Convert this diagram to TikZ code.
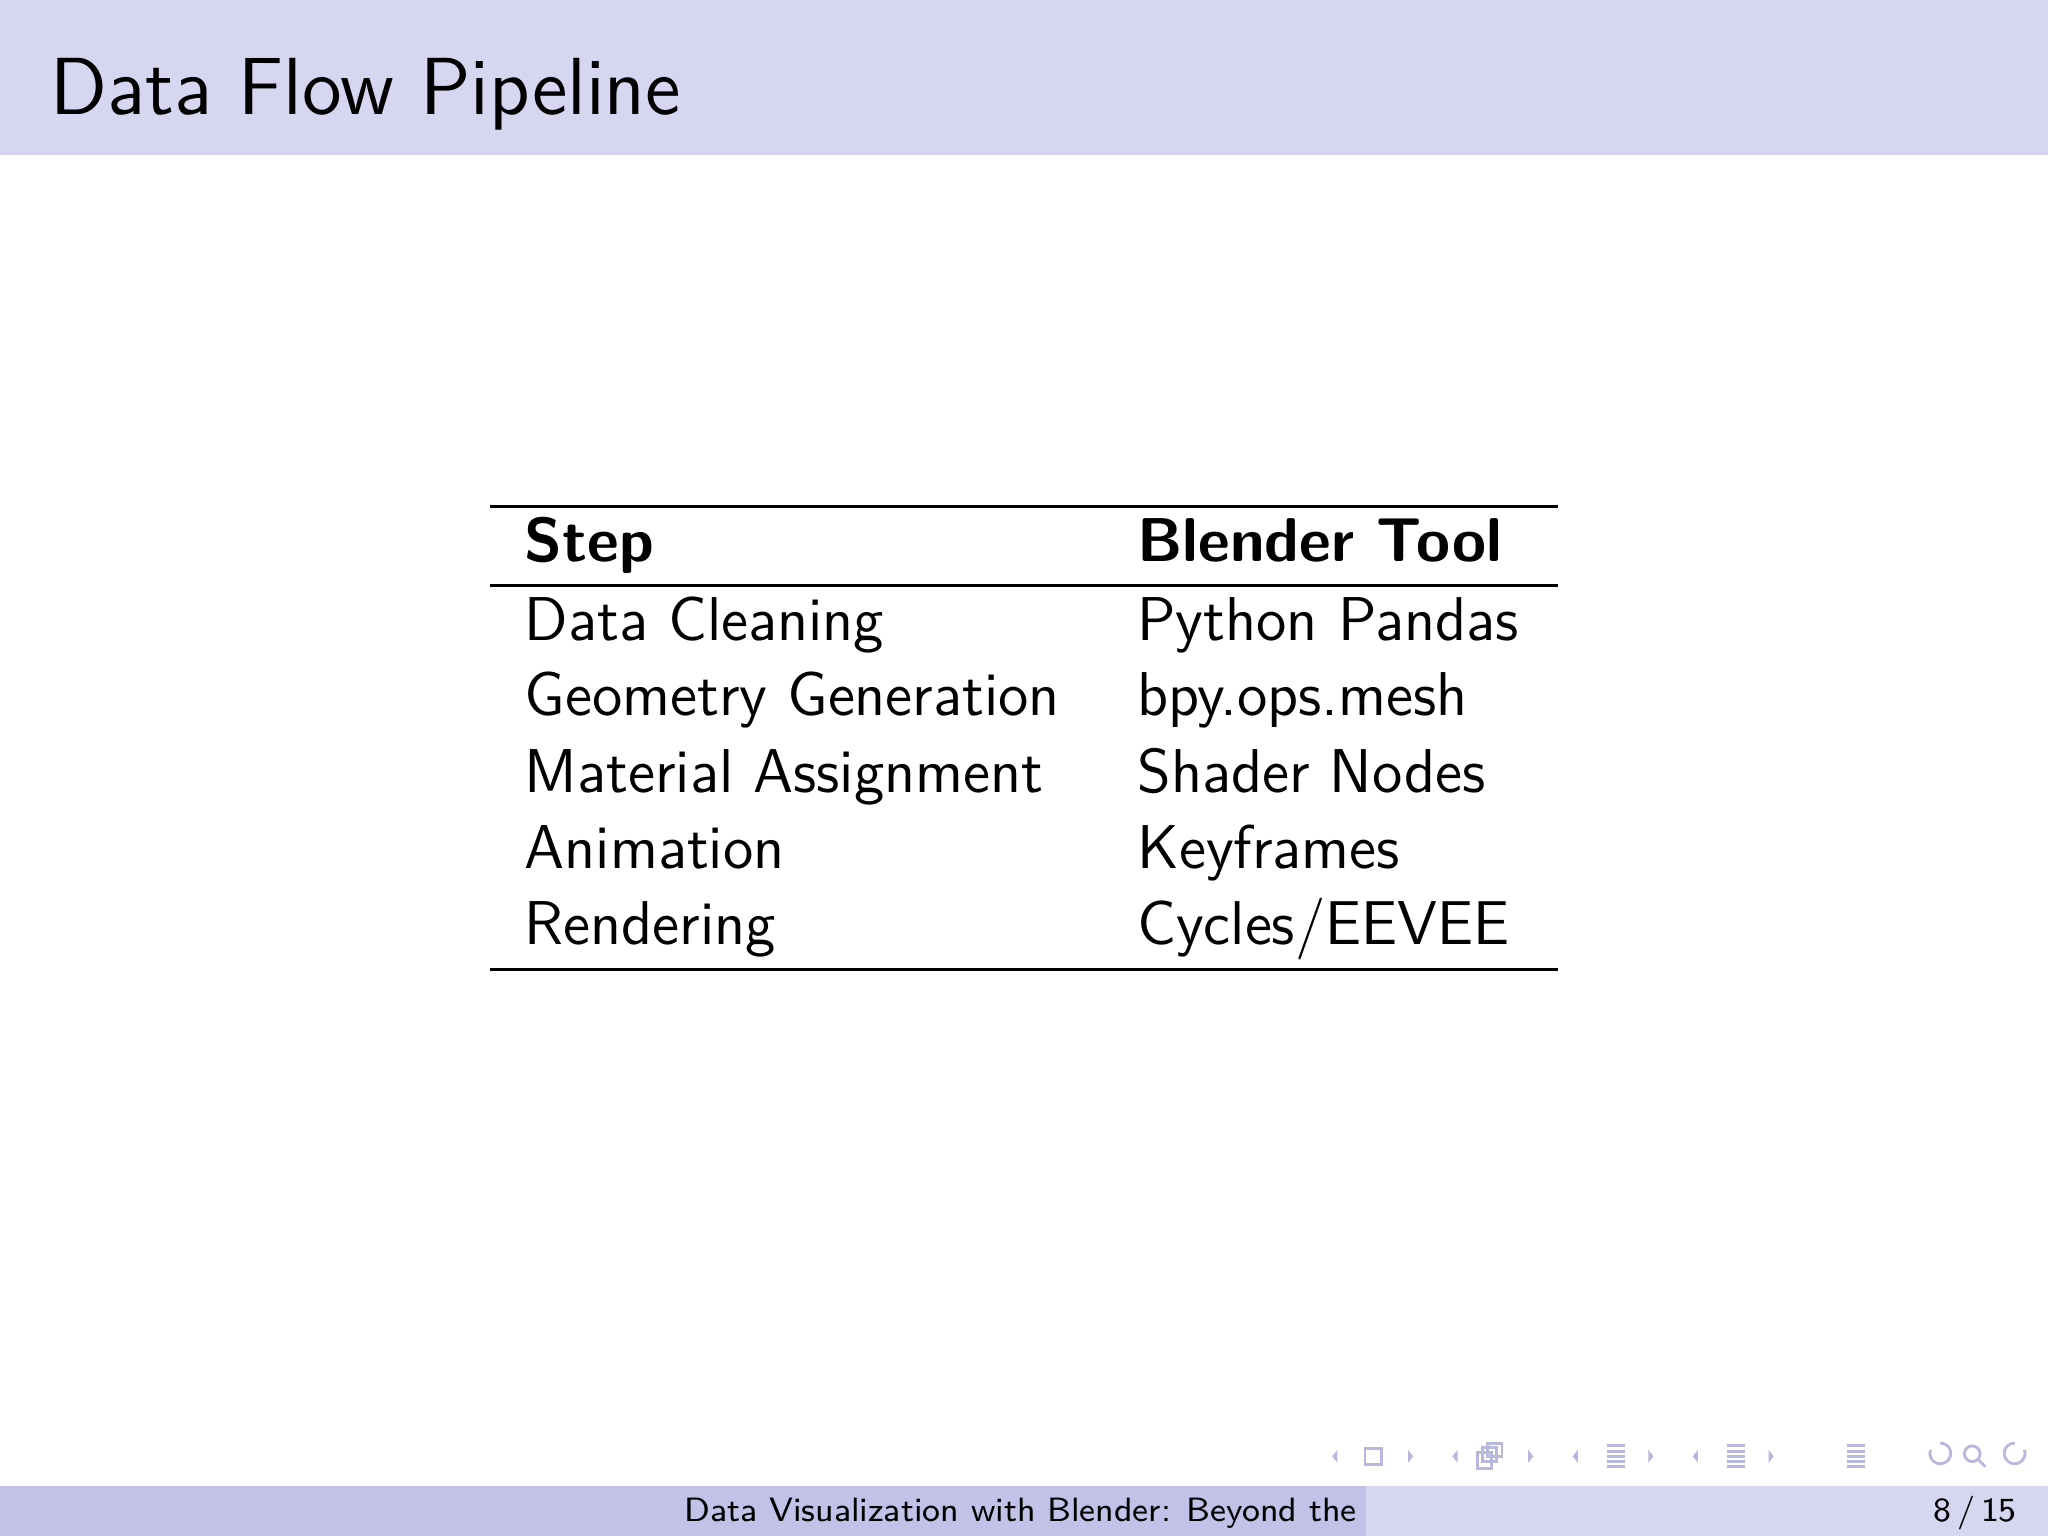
\documentclass[tikz,border=0pt]{standalone}
\renewcommand{\familydefault}{\sfdefault}
\usetikzlibrary{positioning}

\definecolor{headbg}{HTML}{D6D6F0}
\definecolor{footdark}{HTML}{C2C2E8}
\definecolor{footlight}{HTML}{D6D6F0}
\definecolor{navgray}{HTML}{B8B8DC}

\tikzset{
  cell/.style={anchor=base west, inner sep=0pt, font=\fontsize{11pt}{13pt}\selectfont},
  headcell/.style={cell, font=\fontsize{11pt}{13pt}\selectfont\bfseries},
  rule/.style={line width=0.55pt},
  nav/.style={draw=navgray, line width=0.5pt}
}

\begin{document}
\begin{tikzpicture}[x=0.081633mm, y=-0.081633mm]
                \useasboundingbox (0,0) rectangle (1568,1176);
                % header and footer bands
                \fill[headbg] (0,0) rectangle (1568,119);
                \node[anchor=base west, inner sep=0pt, font=\fontsize{14.4pt}{17pt}\selectfont] (title) at (38,88) {Data Flow Pipeline};
                \fill[footdark] (0,1138) rectangle (1046,1176);
                \fill[footlight] (1046,1138) rectangle (1568,1176);
                \node[anchor=base west, inner sep=0pt, font=\fontsize{6pt}{7pt}\selectfont] (foottitle) at (523,1165) {Data Visualization with Blender: Beyond the};
                \node[anchor=base east, inner sep=0pt, font=\fontsize{6pt}{7pt}\selectfont] (pages) at (1545,1165) {8\,/\,15};
                % table
                \draw[rule] (375,388) -- (1193,388);
                \draw[rule] (375,448) -- (1193,448);
                \draw[rule] (375,742) -- (1193,742);
                \node[headcell] (hstep) at (401,430) {Step};
                \node[headcell] (htool) at (870,430) {Blender Tool};
                \foreach \y/\step/\tool [count=\i] in {
                    490/Data Cleaning/Python Pandas,
                    548/Geometry Generation/bpy.ops.mesh,
                    607/Material Assignment/Shader Nodes,
                    665/Animation/Keyframes,
                    723/Rendering/Cycles\slash EEVEE} {
                  \node[cell] (step\i) at (401,\y) {\step};
                  \node[cell] (tool\i) at (870,\y) {\tool};
                }
                % navigation symbols
                \foreach \x in {1020,1112,1204,1296} {
                  \fill[navgray] (\x+4,1110) -- (\x,1115) -- (\x+4,1120) -- cycle;
                }
                \foreach \x in {1078,1170,1262,1354} {
                  \fill[navgray] (\x,1110) -- (\x+4,1115) -- (\x,1120) -- cycle;
                }
                \draw[nav] (1045,1109) rectangle (1058,1121);
                \draw[nav] (1131,1112) rectangle (1142,1124);
                \draw[nav] (1135,1108) rectangle (1146,1119);
                \draw[nav] (1139,1105) rectangle (1150,1115);
                \foreach \x in {1230,1322,1414} {
                  \foreach \yy in {1107,1111,1115,1119,1123} {
                    \draw[nav] (\x,\yy) -- (\x+14,\yy);
                  }
                }
                \draw[nav] (1478,1110) arc (200:-90:8);
                \draw[nav] (1510,1113) circle (6);
                \draw[nav] (1514,1117) -- (1520,1123);
                \draw[nav] (1550,1110) arc (-20:270:8);
\end{tikzpicture}
\end{document}
